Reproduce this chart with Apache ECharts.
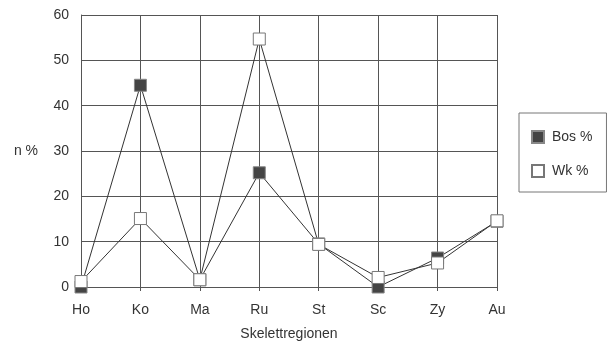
<!DOCTYPE html>
<html>
<head>
<meta charset="utf-8">
<script src="https://cdn.jsdelivr.net/npm/echarts@6/dist/echarts.min.js"></script>
<style>
html,body{margin:0;padding:0;background:#fff;}
#tu_1{width:612px;height:342px;}
</style>
</head>
<body>
<div id="tu_1"></div>
<script>
var kategorien = ['Ho','Ko','Ma','Ru','St','Sc','Zy','Au'];
var bos = [0, 44.5, 1.6, 25.2, 9.5, 0, 6.4, 14.5];//Bos %
var wk = [1.2, 15.1, 1.6, 54.7, 9.4, 2.1, 5.3, 14.6];//Wk %
var yTicks = [0, 60, 10];//min, max, interval

var myChart_1 = echarts.init(document.getElementById('tu_1'));
var schrift = 'Liberation Sans, Arial, sans-serif';
var option = {
	animation: false,
	grid: {
		left: 81,
		right: 115,
		top: 15,
		bottom: 55,
		outerBoundsMode: 'none'
	},
	legend: {
		orient: 'vertical',
		left: 519,
		top: 113,
		width: 89,
		height: 76,
		padding: [17, 14, 14, 12],
		itemGap: 20,
		itemWidth: 12,
		itemHeight: 12,
		borderColor: '#777',
		borderWidth: 1,
		textStyle: {fontFamily: schrift, fontSize: 14, color: '#333', padding: [0, 0, 0, 3]},
		data: [
			{name: 'Bos %', icon: 'rect'},
			{name: 'Wk %', icon: 'rect'}
		]
	},
	xAxis: {
		type: 'category',
		boundaryGap: false,
		data: kategorien,
		name: 'Skelettregionen',
		nameLocation: 'middle',
		nameGap: 40,
		nameTextStyle: {fontFamily: schrift, fontSize: 14, color: '#333'},
		axisLine: {lineStyle: {color: '#555', width: 1}},
		axisTick: {show: true, length: 4, lineStyle: {color: '#555'}},
		axisLabel: {fontFamily: schrift, fontSize: 14, color: '#333', margin: 16},
		splitLine: {show: true, lineStyle: {color: '#555', width: 1}}
	},
	yAxis: {
		type: 'value',
		min: yTicks[0],
		max: yTicks[1],
		interval: yTicks[2],
		name: 'n %',
		nameLocation: 'middle',
		nameRotate: 0,
		nameGap: 43,
		nameTextStyle: {fontFamily: schrift, fontSize: 14, color: '#333'},
		axisLine: {show: true, lineStyle: {color: '#555', width: 1}},
		axisTick: {show: false},
		axisLabel: {fontFamily: schrift, fontSize: 14, color: '#333', margin: 12},
		splitLine: {show: true, lineStyle: {color: '#555', width: 1}}
	},
	series: [
		{
			name: 'Bos %',
			type: 'line',
			data: bos,
			symbol: 'rect',
			symbolSize: 12,
			lineStyle: {color: '#333', width: 1},
			itemStyle: {color: '#444', borderColor: '#888', borderWidth: 1}
		},
		{
			name: 'Wk %',
			type: 'line',
			data: wk,
			symbol: 'rect',
			symbolSize: 12,
			lineStyle: {color: '#333', width: 1},
			itemStyle: {color: '#fff', borderColor: '#777', borderWidth: 1}
		}
	]
};
myChart_1.setOption(option);
</script>
</body>
</html>
